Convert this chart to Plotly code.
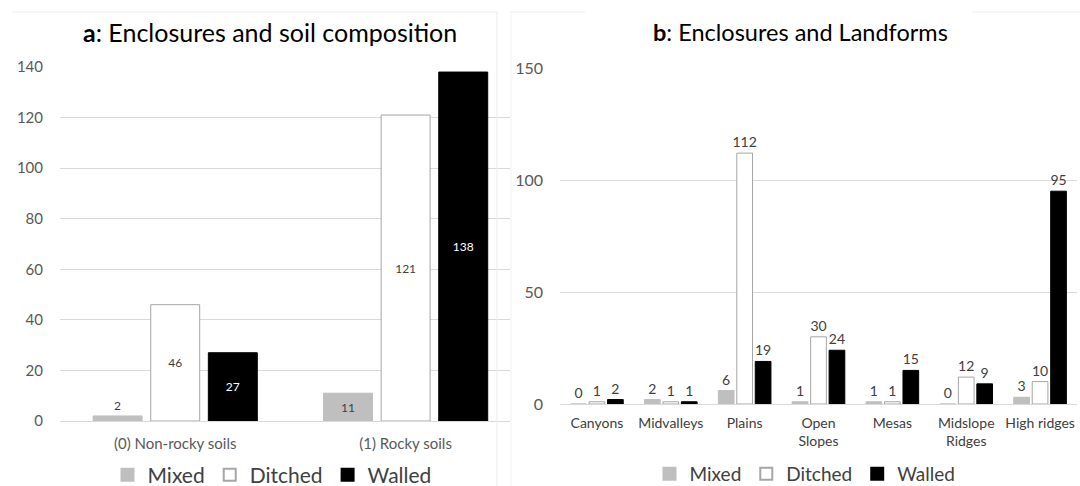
import plotly.graph_objects as go

# ---- data ----
soil_categories = ["(0) Non-rocky soils", "(1) Rocky soils"]
soil_mixed = [2, 11]
soil_ditched = [46, 121]
soil_walled = [27, 138]

land_categories = ["Canyons", "Midvalleys", "Plains", "Open<br>Slopes", "Mesas",
                   "Midslope<br>Ridges", "High ridges"]
land_mixed = [0, 2, 6, 1, 1, 0, 3]
land_ditched = [1, 1, 112, 30, 1, 12, 10]
land_walled = [2, 1, 19, 24, 15, 9, 95]

series_names = ["Mixed", "Ditched", "Walled"]

# ---- styles ----
W, H = 1080, 486
FONT = "Lato, 'Open Sans', sans-serif"
C_MIX = "#BFBFBF"
C_DIT = "#FFFFFF"
C_WAL = "#000000"
EDGE = "#A6A6A6"
LABEL = "#404040"
TICK = "#595959"
GRID = "#D9D9D9"

def px_x(p):
    return p / W

def px_y(p):
    return 1 - p / H

fig = go.Figure()

# Left chart (a)
left_series = [(soil_mixed, C_MIX, C_MIX), (soil_ditched, C_DIT, EDGE), (soil_walled, C_WAL, C_WAL)]
for name, (vals, col, edge) in zip(series_names, left_series):
    txtcol = "#FFFFFF" if col == C_WAL else LABEL
    positions = ["outside" if v < 5 else "inside" for v in vals]
    fig.add_trace(go.Bar(
        x=soil_categories, y=vals, name=name,
        marker=dict(color=col, line=dict(color=edge, width=1)),
        text=[str(v) for v in vals], textposition=positions,
        insidetextanchor="middle", constraintext="none",
        insidetextfont=dict(family=FONT, size=12, color=txtcol),
        outsidetextfont=dict(family=FONT, size=12, color=LABEL),
        cliponaxis=False,
        xaxis="x", yaxis="y", legend="legend",
    ))

# Right chart (b)
right_series = [(land_mixed, C_MIX, C_MIX), (land_ditched, C_DIT, EDGE), (land_walled, C_WAL, C_WAL)]
for name, (vals, col, edge) in zip(series_names, right_series):
    fig.add_trace(go.Bar(
        x=land_categories, y=vals, name=name,
        marker=dict(color=col, line=dict(color=edge, width=1)),
        text=[str(v) for v in vals], textposition="outside",
        constraintext="none",
        textfont=dict(family=FONT, size=14, color=LABEL),
        cliponaxis=False,
        xaxis="x2", yaxis="y2", legend="legend2",
    ))

fig.update_layout(
    width=W, height=H,
    margin=dict(l=0, r=0, t=0, b=0, pad=0, autoexpand=False),
    paper_bgcolor="white", plot_bgcolor="white",
    barmode="group", bargap=0.25, bargroupgap=0.15,
    font=dict(family=FONT, color="#404040"),
    xaxis=dict(domain=[px_x(60), px_x(510)], range=[-0.5, 1.453], anchor="y",
               showgrid=False, zeroline=False, automargin=False,
               tickfont=dict(family=FONT, size=15, color=TICK),
               ticks="", showline=False, ticklabelstandoff=12),
    yaxis=dict(domain=[px_y(421), px_y(67)], range=[0, 140], anchor="x",
               dtick=20, showgrid=True, gridcolor=GRID, gridwidth=1,
               zeroline=True, zerolinecolor=GRID, zerolinewidth=1, automargin=False,
               tickfont=dict(family=FONT, size=15, color=TICK), ticks="",
               ticklabelstandoff=16, showline=False),
    xaxis2=dict(domain=[px_x(560), px_x(1077)], range=[-0.5, 6.5], anchor="y2",
                showgrid=False, zeroline=False, automargin=False,
                tickfont=dict(family=FONT, size=14, color="#404040"),
                ticks="", showline=False, ticklabelstandoff=9),
    yaxis2=dict(domain=[px_y(404), px_y(68)], range=[0, 150], anchor="x2",
                dtick=50, showgrid=True, gridcolor=GRID, gridwidth=1,
                zeroline=True, zerolinecolor=GRID, zerolinewidth=1, automargin=False,
                tickfont=dict(family=FONT, size=16, color=TICK), ticks="",
                ticklabelstandoff=16, showline=False),
    legend=dict(orientation="h", x=px_x(272), xanchor="center", y=px_y(475), yanchor="middle",
                font=dict(family=FONT, size=21, color="#404040"), itemsizing="constant",
                itemwidth=30, bgcolor="rgba(0,0,0,0)", traceorder="normal"),
    legend2=dict(orientation="h", x=px_x(805), xanchor="center", y=px_y(474), yanchor="middle",
                 font=dict(family=FONT, size=19, color="#404040"), itemsizing="constant",
                 itemwidth=30, bgcolor="rgba(0,0,0,0)", traceorder="normal"),
    showlegend=True,
    annotations=[
        dict(text="<b>a</b>: Enclosures and soil composition", x=px_x(270), y=px_y(32),
             xref="paper", yref="paper", showarrow=False, xanchor="center", yanchor="middle",
             font=dict(family=FONT, size=25, color="#000000")),
        dict(text="<b>b</b>: Enclosures and Landforms", x=px_x(800), y=px_y(32),
             xref="paper", yref="paper", showarrow=False, xanchor="center", yanchor="middle",
             font=dict(family=FONT, size=23.5, color="#000000")),
    ],
    shapes=[
        dict(type="line", xref="paper", yref="paper", x0=px_x(12), x1=px_x(497),
             y0=px_y(12), y1=px_y(12), line=dict(color="#EBEBEB", width=1)),
        dict(type="line", xref="paper", yref="paper", x0=px_x(497), x1=px_x(497),
             y0=px_y(12), y1=px_y(486), line=dict(color="#EBEBEB", width=1)),
        dict(type="line", xref="paper", yref="paper", x0=px_x(510), x1=px_x(585),
             y0=px_y(12), y1=px_y(12), line=dict(color="#EBEBEB", width=1)),
        dict(type="line", xref="paper", yref="paper", x0=px_x(972), x1=px_x(1080),
             y0=px_y(12), y1=px_y(12), line=dict(color="#EBEBEB", width=1)),
        dict(type="line", xref="paper", yref="paper", x0=px_x(511), x1=px_x(511),
             y0=px_y(12), y1=px_y(486), line=dict(color="#F2F2F2", width=1)),
    ],
)

fig.write_html(
    "out.html",
    config={"displayModeBar": False},
    post_script="document.body.style.margin='0';document.body.style.overflow='hidden';",
)
